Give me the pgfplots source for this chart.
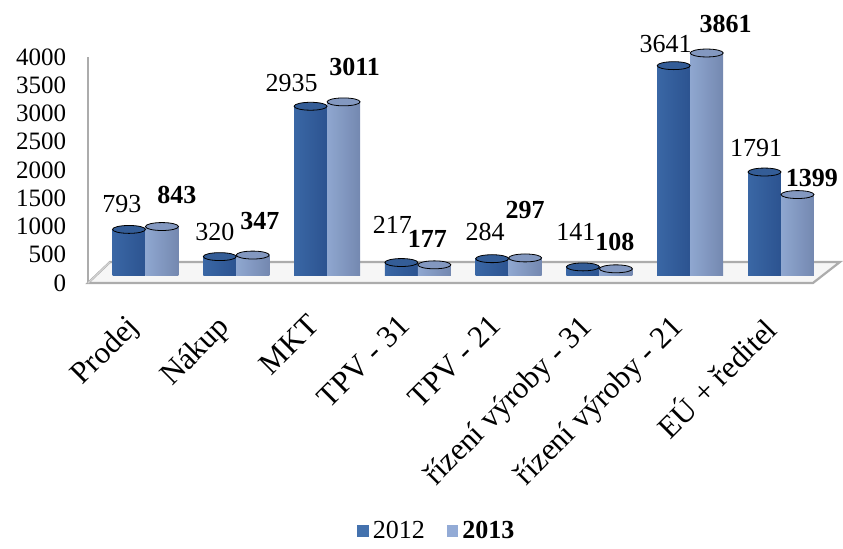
\documentclass[border=0pt]{standalone}
\usepackage{fontspec}
\setmainfont{Liberation Serif}
\usepackage{pgfplots}
\pgfplotsset{compat=1.18}
\definecolor{dA}{HTML}{3A67A5}
\definecolor{dM}{HTML}{4F80BF}
\definecolor{dB}{HTML}{2C5390}
\definecolor{dT}{HTML}{345D97}
\definecolor{lA}{HTML}{8FA7D0}
\definecolor{lM}{HTML}{A9BFE3}
\definecolor{lB}{HTML}{7488B0}
\definecolor{lT}{HTML}{8398C0}
\definecolor{legD}{HTML}{4472AE}
\definecolor{legL}{HTML}{93ABD6}
\pgfplotsset{
  b12/.style={draw=none, left color=dA, middle color=dM, right color=dB, forget plot,
    mark=*, mark size=8.25pt, mark options={yscale=0.24, fill=dT, draw=none},
    bar shift=0pt},
  b13/.style={draw=none, left color=lA, middle color=lM, right color=lB, forget plot,
    mark=*, mark size=8.25pt, mark options={yscale=0.24, fill=lT, draw=none},
    bar shift=0pt, every node near coord/.append style={font=\fontsize{13}{14}\selectfont\bfseries}},
}
\newcommand{\barA}[4]{\addplot[b12, every node near coord/.append style={xshift=#3pt, yshift=#4pt}] coordinates {(#1,#2)};}
\newcommand{\barB}[4]{\addplot[b13, every node near coord/.append style={xshift=#3pt, yshift=#4pt}] coordinates {(#1,#2)};}
\begin{document}
\begin{tikzpicture}
\begin{axis}[
  at={(50.05pt,132.5pt)}, anchor=south west,
  scale only axis, width=363.15pt, height=119pt,
  xmin=-0.5, xmax=7.5, ymin=-139, ymax=4000,
  clip=false,
  axis line style={draw=none},
  major tick length=0pt,
  ytick={-139,352.25,843.5,1334.75,1826,2317.25,2808.5,3299.75,3791},
  yticklabels={0,500,1000,1500,2000,2500,3000,3500,4000},
  yticklabel style={font=\fontsize{12.5}{13}\selectfont, anchor=east, xshift=-13.5pt},
  /pgf/number format/assume math mode=true,
  /pgf/number format/1000 sep={},
  xtick={0,...,7},
  xticklabels={Prodej, Nákup, MKT, TPV - 31, TPV - 21, řízení výroby - 31, řízení výroby - 21, EÚ + ředitel},
  xticklabel style={font=\fontsize{15.5}{16}\selectfont, rotate=45, anchor=north east, yshift=0.25pt, xshift=-14.5pt},
  ybar, bar width=0.363,
  nodes near coords,
  every node near coord/.append style={font=\fontsize{13}{14}\selectfont, anchor=center},
  legend style={at={(axis description cs:0.465,-1.042)}, anchor=center, draw=none, legend columns=2,
    font=\fontsize{13}{14}\selectfont, /tikz/every even column/.append style={column sep=9pt}},
  legend image code/.code={\fill (0pt,-3.2pt) rectangle (5.8pt,3.2pt);},
]
\addlegendimage{fill=legD, draw=none}
\addlegendentry{2012}
\addlegendimage{fill=legL, draw=none}
\addlegendentry{\textbf{2013}}
% floor and side line
\fill[gray!7] (axis cs:-0.633,-139) -- (axis cs:7.352,-139) -- (axis cs:7.649,226) -- (axis cs:-0.391,226) -- cycle;
\draw[gray!65, line width=1.1pt] (axis cs:-0.633,-139) -- (axis cs:7.352,-139) -- (axis cs:7.649,226) -- (axis cs:-0.391,226) -- cycle;
\draw[gray!65, line width=1.1pt] (axis cs:-0.633,3791) -- (axis cs:-0.633,-139);
\draw[gray!35, line width=0.6pt] (axis cs:-0.633,-139) -- (axis cs:-0.391,226);
% 2012
\barA{-0.1817}{793}{-3.5}{12.7}
\barA{0.8183}{320}{-2.5}{12.3}
\barA{1.8183}{2935}{-9.5}{11.5}
\barA{2.8183}{217}{-4.5}{18.75}
\barA{3.8183}{284}{-3.5}{13.35}
\barA{4.8183}{141}{-3.5}{17.5}
\barA{5.8183}{3641}{-4}{10.8}
\barA{6.8183}{1791}{-4.25}{12}
% 2013
\barB{0.1817}{843}{7.5}{15.75}
\barB{1.1817}{347}{3.5}{17}
\barB{2.1817}{3011}{5.5}{17.5}
\barB{3.1817}{177}{-3.5}{13}
\barB{4.1817}{297}{0}{24}
\barB{5.1817}{108}{-0.5}{13.5}
\barB{6.1817}{3861}{9.5}{14.5}
\barB{7.1817}{1399}{7.25}{8.3}
\end{axis}
\pgfresetboundingbox
\path[use as bounding box] (0,0) rectangle (421.5pt,274pt);
\end{tikzpicture}
\end{document}
